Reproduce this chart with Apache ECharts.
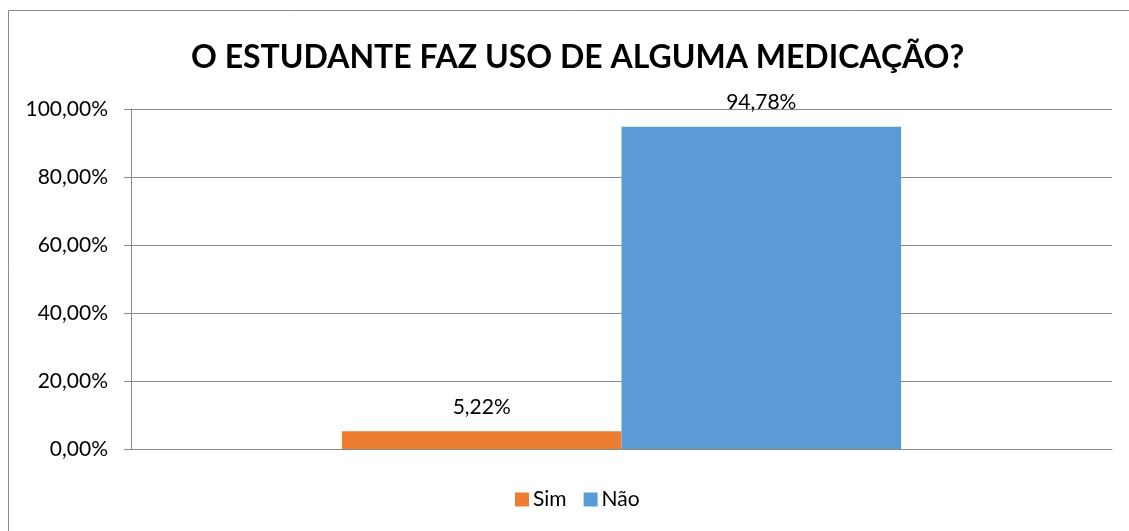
<!DOCTYPE html>
<html>
<head>
<meta charset="utf-8">
<script src="https://cdn.jsdelivr.net/npm/echarts@6/dist/echarts.min.js"></script>
<style>
  html, body { margin: 0; padding: 0; background: #fff; }
  #chart { width: 1129px; height: 531px; }
</style>
</head>
<body>
<div id="chart"></div>
<script>
// Answers to the survey question, as percentages of students
const categories = ['Resposta'];
const seriesNames = ['Sim', 'Não'];
const simValues = [5.22];
const naoValues = [94.78];
const seriesColors = ['#ED7D31', '#5B9BD5'];
const yTicks = { min: 0, max: 100, interval: 20 };

const FONT = 'Lato, "Open Sans", sans-serif';
const fmtPct = v => v.toFixed(2).replace('.', ',') + '%';

const chart = echarts.init(document.getElementById('chart'));

const barLabel = {
  show: true,
  position: 'top',
  distance: 14,
  fontFamily: FONT,
  fontSize: 21,
  color: '#000',
  formatter: p => fmtPct(p.value)
};

chart.setOption({
  animation: false,
  title: {
    text: 'O ESTUDANTE FAZ USO DE ALGUMA MEDICAÇÃO?',
    left: 186,
    top: 37,
    textStyle: { fontFamily: FONT, fontSize: 32, fontWeight: 'bold', color: '#000' }
  },
  legend: {
    data: seriesNames,
    bottom: 16,
    left: 510,
    icon: 'rect',
    itemWidth: 14,
    itemHeight: 14,
    itemGap: 17,
    textStyle: { fontFamily: FONT, fontSize: 21, color: '#000', padding: [0, 0, 0, -1] }
  },
  graphic: [{
    type: 'rect',
    shape: { x: 8.5, y: 10.5, width: 1200, height: 600 },
    style: { fill: 'none', stroke: '#8a8a8a', lineWidth: 1 },
    silent: true
  }],
  grid: { left: 131, right: 17, top: 109, bottom: 82 },
  xAxis: {
    type: 'category',
    data: categories,
    axisLine: { show: true, lineStyle: { color: '#8a8a8a' } },
    axisTick: { show: false },
    axisLabel: { show: false }
  },
  yAxis: {
    type: 'value',
    min: yTicks.min,
    max: yTicks.max,
    interval: yTicks.interval,
    axisLine: { show: true, lineStyle: { color: '#8a8a8a' } },
    axisTick: { show: true, length: 7, lineStyle: { color: '#8a8a8a' } },
    axisLabel: { fontFamily: FONT, fontSize: 21, color: '#000', margin: 23, formatter: v => fmtPct(v) },
    splitLine: { show: true, lineStyle: { color: '#8a8a8a' } }
  },
  series: [
    {
      name: seriesNames[0], type: 'bar', data: simValues,
      itemStyle: { color: seriesColors[0] },
      barGap: '0%', barCategoryGap: '43%',
      label: barLabel
    },
    {
      name: seriesNames[1], type: 'bar', data: naoValues,
      itemStyle: { color: seriesColors[1] },
      barGap: '0%', barCategoryGap: '43%',
      label: barLabel
    }
  ]
});
</script>
</body>
</html>
